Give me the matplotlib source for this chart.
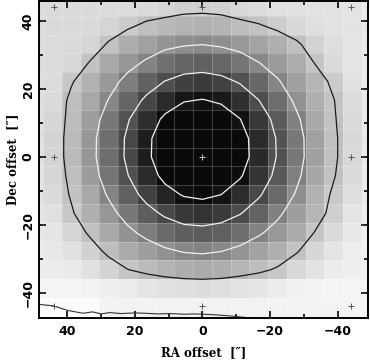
import numpy as np
import matplotlib
matplotlib.use("Agg")
import matplotlib.pyplot as plt
from matplotlib.colors import LinearSegmentedColormap, Normalize

# map pixel centres (arcsec offsets); RA runs east to west, left to right
ra_offset = [49.9, 44.3, 38.8, 33.2, 27.7, 22.2, 16.6, 11.1, 5.5, 0.0,
             -5.5, -11.1, -16.6, -22.2, -27.7, -33.2, -38.8, -44.3, -49.9]
dec_offset = [44.3, 38.8, 33.2, 27.7, 22.2, 16.6, 11.1, 5.5, 0.0,
              -5.5, -11.1, -16.6, -22.2, -27.7, -33.2, -38.8, -44.3, -49.9]

# intensity per pixel, rows from top (north) to bottom
flux = [
    [37, 37, 37, 37, 36, 36, 37, 43, 47, 48, 46, 41, 35, 31, 30, 29, 29, 28, 22],
    [37, 37, 37, 38, 43, 52, 65, 70, 76, 78, 75, 67, 61, 50, 40, 32, 29, 28, 23],
    [36, 36, 37, 43, 62, 82, 94, 107, 114, 117, 112, 103, 91, 80, 64, 45, 33, 27, 23],
    [35, 35, 40, 61, 86, 104, 124, 143, 154, 157, 152, 139, 119, 100, 82, 58, 38, 27, 22],
    [34, 35, 56, 78, 102, 130, 157, 178, 192, 196, 189, 173, 151, 122, 95, 74, 52, 30, 22],
    [33, 37, 66, 88, 120, 154, 185, 213, 233, 239, 229, 206, 178, 146, 110, 80, 60, 34, 22],
    [32, 42, 67, 97, 136, 173, 209, 245, 270, 276, 265, 237, 199, 164, 126, 88, 62, 38, 23],
    [31, 44, 69, 104, 145, 183, 224, 264, 288, 293, 283, 255, 213, 173, 135, 94, 64, 40, 23],
    [30, 44, 69, 105, 145, 184, 225, 266, 289, 294, 285, 257, 214, 174, 135, 95, 64, 40, 23],
    [29, 42, 66, 99, 138, 175, 212, 249, 274, 281, 270, 241, 202, 166, 128, 89, 61, 38, 22],
    [28, 38, 62, 88, 123, 158, 190, 219, 240, 247, 236, 211, 182, 150, 114, 78, 54, 33, 21],
    [26, 31, 55, 80, 104, 134, 162, 184, 199, 203, 196, 179, 156, 126, 97, 74, 48, 27, 19],
    [24, 26, 42, 64, 88, 108, 130, 149, 161, 164, 158, 145, 124, 103, 84, 58, 37, 23, 18],
    [22, 23, 30, 46, 66, 84, 97, 111, 121, 124, 119, 107, 93, 80, 62, 42, 27, 19, 16],
    [20, 20, 22, 30, 44, 58, 68, 76, 82, 84, 81, 74, 66, 55, 40, 28, 20, 17, 15],
    [11, 11, 11, 13, 17, 21, 26, 30, 33, 34, 33, 29, 25, 20, 16, 13, 11, 11, 10],
    [4, 4, 4, 4, 12, 12, 13, 14, 14, 14, 14, 14, 14, 13, 13, 12, 12, 11, 10],
    [3, 3, 3, 3, 8, 9, 10, 10, 10, 10, 10, 10, 10, 10, 9, 9, 9, 9, 8],
]

levels = [59, 118, 177, 236]

# edge-of-map contour along the southern border
edge_ra = [48.3, 44.1, 39.7, 35.3, 32.4, 29.9, 27.4, 24.0, 20.1, 17.1,
           13.2, 9.3, 5.4, 2.4, -0.5, -4.4, -9.4, -14.3]
edge_dec = [-43.4, -43.8, -45.2, -46.0, -45.6, -46.2, -45.8, -46.1, -45.9, -46.0,
            -46.2, -46.1, -46.3, -46.2, -46.3, -46.5, -46.9, -47.4]

# reference positions
mark_ra = [44, 0, -44]
mark_dec = [44, 0, -44]

ra = np.array(ra_offset)
dec = np.array(dec_offset)
z = np.array(flux, dtype=float)

fig = plt.figure(figsize=(3.7, 3.64), dpi=100)
ax = fig.add_axes([39 / 370, 46 / 364, 329 / 370, 317 / 364])

cmap = LinearSegmentedColormap.from_list("grey", ["#ffffff", "#0a0a0a"])
ax.pcolormesh(ra, dec, z, cmap=cmap, norm=Normalize(0, 245), shading="nearest")

# faint pixel boundaries
xe = (ra[:-1] + ra[1:]) / 2
ye = (dec[:-1] + dec[1:]) / 2
ax.vlines(xe, -60, 60, color="white", alpha=0.2, lw=0.8)
ax.hlines(ye, -60, 60, color="white", alpha=0.2, lw=0.8)

ax.contour(ra, dec, z, levels=levels,
           colors=["#1a1a1a", "#f2f2f2", "#f2f2f2", "#f2f2f2"], linewidths=0.9)
ax.plot(edge_ra, edge_dec, color="#333333", lw=0.8)

for mx in mark_ra:
    for my in mark_dec:
        c = "#c8c8c8" if (mx == 0 and my == 0) else "#555555"
        ax.plot(mx, my, marker="+", ms=4.5, mew=0.7, color=c)

ax.set_xlim(48.3, -48.9)
ax.set_ylim(-47.4, 45.9)

ax.set_xticks([40, 20, 0, -20, -40])
ax.set_yticks([40, 20, 0, -20, -40])
ax.set_xticks([30, 10, -10, -30], minor=True)
ax.set_yticks([30, 10, -10, -30], minor=True)
ax.tick_params(which="both", direction="in", top=True, right=True, width=1.2, color="black")
ax.tick_params(which="major", length=5, labelsize=9)
ax.tick_params(axis="x", which="major", pad=5)
ax.tick_params(axis="y", which="major", pad=3)
ax.tick_params(which="minor", length=3)
for lab in ax.get_xticklabels() + ax.get_yticklabels():
    lab.set_fontweight("bold")
for lab in ax.get_yticklabels():
    lab.set_rotation(90)
    lab.set_va("center")
for s in ax.spines.values():
    s.set_linewidth(1.4)

ax.set_xlabel("RA offset  [\u2033]", family="DejaVu Serif", fontweight="bold", fontsize=8.5, labelpad=6)
ax.set_ylabel("Dec offset  [\u2033]", family="DejaVu Serif", fontweight="bold", fontsize=8.5, labelpad=2)

fig.savefig("out.png", dpi=100)
